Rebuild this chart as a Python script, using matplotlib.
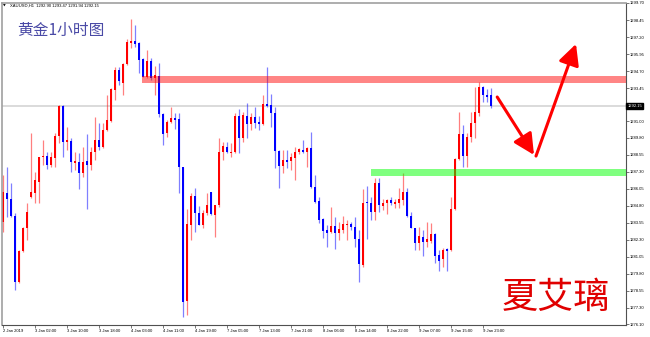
import matplotlib
matplotlib.use("Agg")
import matplotlib.pyplot as plt
import matplotlib.transforms as mtransforms
import numpy as np

plt.rcParams['font.family'] = ['Liberation Sans', 'DejaVu Sans']

# XAUUSD H1 candles (bar 0 = 2 Jan 2019 18:00)
opens = [
    1283.60, 1285.75, 1285.26, 1284.04, 1279.21, 1281.49, 1283.13, 1285.46, 1285.75, 1286.56,
    1288.35, 1288.45, 1287.79, 1288.33, 1289.92, 1292.13, 1289.50, 1289.58, 1287.96, 1288.03,
    1287.18, 1288.09, 1287.79, 1288.77, 1289.63, 1289.09, 1290.36, 1291.05, 1293.30, 1294.77,
    1293.79, 1295.22, 1296.73, 1296.93, 1296.73, 1295.56, 1294.28, 1295.46, 1294.21, 1294.33,
    1291.54, 1290.12, 1290.93, 1291.22, 1291.15, 1287.61, 1277.81, 1283.38, 1285.51, 1284.24,
    1283.38, 1284.24, 1285.83, 1284.11, 1284.85, 1288.77, 1289.14, 1288.65, 1288.77, 1291.39,
    1289.75, 1291.39, 1290.80, 1291.29, 1290.93, 1290.78, 1292.27, 1292.20, 1291.64, 1288.82,
    1287.72, 1288.16, 1288.09, 1288.28, 1288.72, 1288.89, 1288.77, 1289.06, 1286.15, 1285.14,
    1283.80, 1283.01, 1282.89, 1283.30, 1282.81, 1283.01, 1283.38, 1283.43, 1283.26, 1282.33,
    1280.44, 1285.02, 1284.97, 1284.36, 1286.44, 1284.78, 1284.97, 1285.22, 1284.92, 1285.02,
    1285.22, 1285.83, 1284.04, 1283.13, 1282.03, 1282.52, 1282.15, 1282.23, 1282.72, 1281.17,
    1280.85, 1281.59, 1281.54, 1284.55, 1288.23, 1290.07, 1288.48, 1289.82, 1290.85, 1291.64,
    1293.55, 1292.93, 1292.93]
highs = [
    1287.05, 1287.67, 1286.49, 1284.24, 1281.54, 1283.26, 1284.97, 1290.12, 1287.30, 1288.40,
    1289.63, 1288.77, 1288.77, 1290.17, 1292.20, 1292.20, 1290.61, 1289.75, 1288.77, 1288.65,
    1289.14, 1290.04, 1289.14, 1291.29, 1290.85, 1290.85, 1292.93, 1293.43, 1295.02, 1295.02,
    1295.26, 1297.03, 1298.50, 1298.08, 1296.86, 1295.63, 1296.24, 1295.63, 1295.07, 1295.26,
    1291.59, 1291.10, 1292.08, 1291.64, 1291.64, 1287.67, 1284.53, 1285.70, 1286.07, 1284.78,
    1284.48, 1285.75, 1285.83, 1284.85, 1289.75, 1289.50, 1289.50, 1289.43, 1291.64, 1291.88,
    1291.71, 1292.32, 1291.59, 1292.03, 1291.39, 1292.93, 1295.02, 1293.01, 1292.08, 1288.89,
    1288.89, 1288.89, 1288.65, 1289.14, 1289.06, 1289.63, 1289.09, 1290.24, 1287.05, 1285.46,
    1283.87, 1283.38, 1284.73, 1283.99, 1283.62, 1284.04, 1283.75, 1283.62, 1283.99, 1283.01,
    1286.00, 1286.24, 1285.46, 1286.86, 1286.81, 1285.26, 1285.26, 1285.41, 1285.26, 1286.07,
    1287.18, 1286.12, 1284.36, 1283.13, 1283.26, 1283.01, 1283.62, 1283.50, 1282.76, 1281.54,
    1281.66, 1281.66, 1285.46, 1288.28, 1291.71, 1290.73, 1290.12, 1291.71, 1293.50, 1293.92,
    1293.60, 1293.35, 1293.43]
lows = [
    1282.89, 1283.99, 1283.99, 1278.60, 1279.09, 1281.42, 1282.28, 1285.40, 1285.02, 1285.02,
    1287.79, 1287.47, 1287.67, 1287.67, 1289.38, 1288.40, 1288.89, 1287.30, 1287.42, 1286.00,
    1286.93, 1284.53, 1287.42, 1288.16, 1288.89, 1289.01, 1290.30, 1290.98, 1292.57, 1293.67,
    1292.93, 1295.14, 1296.37, 1296.49, 1294.53, 1294.28, 1294.20, 1294.04, 1292.93, 1291.34,
    1289.26, 1289.87, 1290.85, 1290.41, 1285.75, 1276.61, 1276.76, 1282.28, 1282.89, 1283.38,
    1283.13, 1284.11, 1284.11, 1282.52, 1284.73, 1288.16, 1288.65, 1288.40, 1288.70, 1288.65,
    1289.50, 1289.75, 1290.36, 1290.49, 1290.36, 1290.73, 1292.08, 1290.61, 1287.54, 1286.07,
    1287.18, 1287.54, 1287.42, 1286.69, 1288.57, 1288.65, 1287.67, 1286.07, 1285.02, 1283.50,
    1282.40, 1281.74, 1282.76, 1281.59, 1282.28, 1282.76, 1282.28, 1283.01, 1281.79, 1279.21,
    1280.32, 1282.33, 1283.75, 1283.75, 1284.36, 1284.48, 1284.19, 1284.85, 1284.60, 1284.60,
    1284.85, 1283.99, 1283.13, 1281.54, 1281.54, 1281.10, 1281.79, 1282.03, 1280.61, 1280.02,
    1280.32, 1280.02, 1281.49, 1284.48, 1288.16, 1287.67, 1287.67, 1289.50, 1289.75, 1291.39,
    1292.45, 1292.45, 1291.96]
closes = [
    1285.80, 1285.26, 1284.04, 1279.21, 1281.49, 1283.13, 1284.36, 1285.83, 1286.69, 1288.40,
    1288.48, 1287.79, 1288.40, 1289.92, 1292.13, 1289.50, 1289.63, 1288.03, 1288.11, 1287.18,
    1288.03, 1287.79, 1288.77, 1289.63, 1289.14, 1290.36, 1291.10, 1293.35, 1294.77, 1293.96,
    1295.22, 1296.86, 1296.93, 1296.66, 1295.51, 1294.28, 1295.46, 1294.16, 1294.41, 1291.54,
    1290.07, 1290.95, 1291.22, 1291.10, 1287.67, 1277.74, 1283.45, 1285.51, 1284.24, 1283.38,
    1284.24, 1284.85, 1284.19, 1284.85, 1288.77, 1289.19, 1288.77, 1288.77, 1291.39, 1289.75,
    1291.47, 1290.80, 1291.29, 1290.85, 1290.78, 1292.25, 1292.13, 1291.64, 1288.82, 1287.72,
    1288.16, 1288.03, 1288.40, 1288.77, 1288.94, 1288.77, 1289.01, 1286.15, 1285.09, 1283.75,
    1282.96, 1282.81, 1283.30, 1282.81, 1283.06, 1283.45, 1283.45, 1283.21, 1282.33, 1280.51,
    1284.97, 1284.97, 1284.36, 1286.44, 1284.85, 1284.97, 1285.22, 1285.02, 1285.09, 1285.26,
    1285.83, 1284.04, 1283.13, 1282.03, 1282.57, 1282.15, 1282.33, 1282.72, 1281.10, 1280.76,
    1281.54, 1281.49, 1284.55, 1288.21, 1290.07, 1288.48, 1289.87, 1290.85, 1291.71, 1293.50,
    1292.93, 1292.76, 1292.15]

time_labels = ["2 Jan 2019", "3 Jan 02:00", "3 Jan 10:00", "3 Jan 18:00", "4 Jan 03:00",
               "4 Jan 11:00", "4 Jan 19:00", "7 Jan 05:00", "7 Jan 13:00", "7 Jan 21:00",
               "8 Jan 06:00", "8 Jan 14:00", "8 Jan 22:00", "9 Jan 07:00", "9 Jan 15:00",
               "9 Jan 23:00"]
price_ticks = [1299.70, 1298.45, 1297.20, 1295.95, 1294.70, 1293.45, 1291.00, 1289.80,
               1288.55, 1287.30, 1286.05, 1284.80, 1283.55, 1282.30, 1281.05, 1279.80,
               1278.55, 1277.30, 1276.10]
last_price = 1292.15
header = "XAUUSD,H1  1292.90 1293.47 1291.94 1292.15"

# resistance / support zones (start bar, low, high)
resistance = (34.8, 1293.82, 1294.33)
support = (92.1, 1286.98, 1287.50)
# hand-drawn arrows (bar, price)
arrow_down = ((123.6, 1292.79), (132.8, 1288.53))
arrow_up = ((133.3, 1288.45), (143.3, 1296.69))

o = np.array(opens)
h = np.array(highs)
l = np.array(lows)
c = np.array(closes)
x = np.arange(len(o))
up = c >= o
cols = np.where(up, '#ff0000', '#0000ff')

fig = plt.figure(figsize=(6.5, 3.37), dpi=100)
ax = fig.add_axes([2 / 650, 12 / 337, 624 / 650, 322 / 337])
ax.set_xlim(-0.2, 155.8)
ax.set_ylim(1276.03, 1299.70)

ax.axhline(last_price, color='#d4d4d4', lw=1.2, zorder=0)

ax.vlines(x, l, h, colors=cols, lw=0.9, alpha=0.5, zorder=1)
body = np.maximum(np.abs(c - o), 0.07)
ax.bar(x, body, bottom=np.minimum(o, c), width=0.65, color=cols, lw=0, zorder=2)

xr = ax.get_xlim()[1]
ax.fill_between([resistance[0], xr], resistance[1], resistance[2],
                color='#ff0000', alpha=0.48, lw=0, zorder=3)
ax.fill_between([support[0], xr], support[1], support[2],
                color='#00ff00', alpha=0.5, lw=0, zorder=3)

for start, tip in (arrow_down, arrow_up):
    ax.annotate('', xy=tip, xytext=start,
                arrowprops=dict(arrowstyle='-|>,head_length=0.9,head_width=0.45',
                                color='#ff0000', lw=2.2, mutation_scale=14,
                                shrinkA=0, shrinkB=0), zorder=5)

# axes styling
ax.yaxis.tick_right()
ax.set_yticks(price_ticks)
ax.set_yticklabels([f"{v:.2f}" for v in price_ticks])
ax.set_xticks(np.arange(len(time_labels)) * 8)
ax.set_xticklabels(time_labels)
for lbl in ax.get_xticklabels():
    lbl.set_ha('left')
ax.tick_params(axis='both', labelsize=3, length=2, width=0.5, color='#404040', pad=1)
for s in ('left', 'top'):
    ax.spines[s].set_color('#a0a0a0')
    ax.spines[s].set_linewidth(1.2)
for s in ('right', 'bottom'):
    ax.spines[s].set_color('#505050')
    ax.spines[s].set_linewidth(0.8)

trans = mtransforms.blended_transform_factory(ax.transAxes, ax.transData)
ax.text(1.002, last_price, f"{last_price:.2f}", transform=trans, fontsize=3,
        color='white', va='center', ha='left',
        bbox=dict(boxstyle='square,pad=0.25', fc='black', ec='black'), clip_on=False)

fig.text(3 / 650, 1 - 6 / 337, '▼', fontsize=2.5, va='center', family=['DejaVu Sans'])
fig.text(10 / 650, 1 - 6 / 337, header, fontsize=3, va='center')

fig.text(17 / 650, 1 - 30 / 337, '黄金1小时图', fontsize=11.3, color='#4a4aa6', va='center',
         family=['Noto Sans CJK SC', 'DejaVu Sans'], fontweight='light')
fig.text(502 / 650, 1 - 298 / 337, '夏艾璃', fontsize=26, color='#e00000', va='center',
         family=['Noto Sans CJK SC', 'DejaVu Sans'], fontweight='light')

plt.savefig("out.png", dpi=100)
